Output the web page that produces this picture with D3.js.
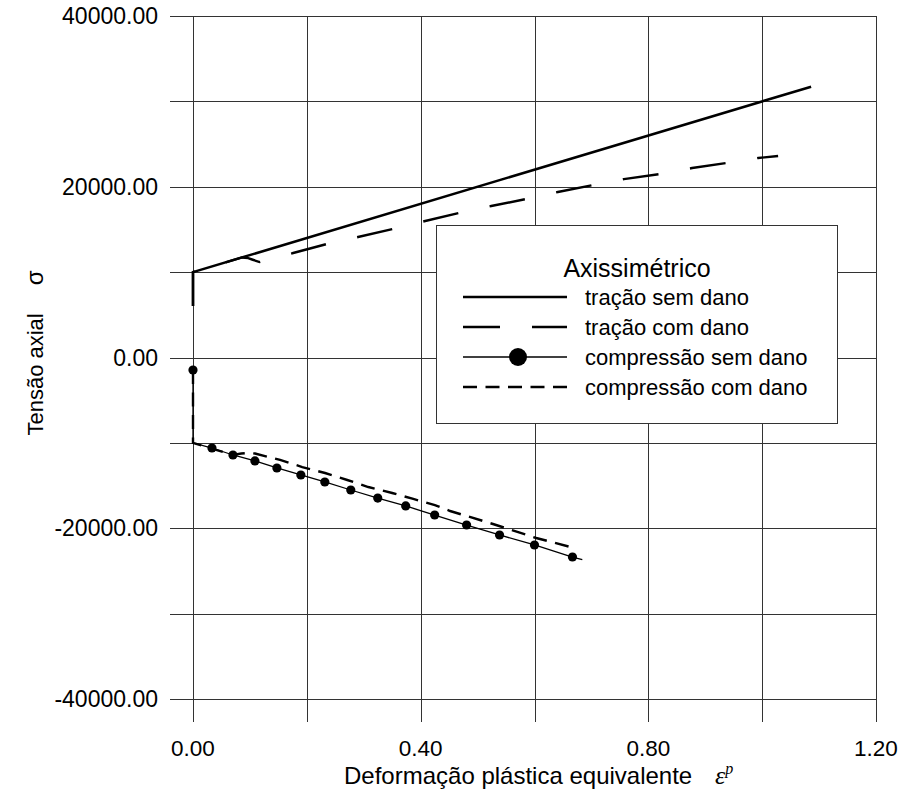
<!DOCTYPE html>
<html>
<head>
<meta charset="utf-8">
<script src="https://cdn.jsdelivr.net/npm/d3@7"></script>
<style>
  html, body { margin: 0; padding: 0; background: #fff; }
  svg { display: block; font-family: "Liberation Sans", Arial, sans-serif; }
</style>
</head>
<body>
<svg id="chart" width="903" height="793"></svg>
<script>
// ---- data ----
const tracaoSemDanoX = [0, 0, 1.086];
const tracaoSemDanoY = [6030, 10000, 31720];

const tracaoComDanoX = [0, 0, 0.086, 0.097, 0.105, 0.117, 0.176, 0.235, 0.290, 0.351, 0.408, 0.467, 0.524, 0.585, 0.641, 0.703, 0.757, 0.819, 0.877, 0.937, 0.993, 1.028];
const tracaoComDanoY = [6030, 10000, 11720, 11640, 11450, 11180, 12240, 13290, 14110, 15050, 15990, 16920, 17740, 18560, 19380, 20200, 20900, 21480, 22190, 22780, 23370, 23600];

const compSemDanoX = [0, 0, 0.0333, 0.0702, 0.1088, 0.1474, 0.1895, 0.2316, 0.2772, 0.3246, 0.3737, 0.4246, 0.4807, 0.5386, 0.6000, 0.6667, 0.684];
const compSemDanoY = [-1464, -10000, -10600, -11420, -12120, -12940, -13760, -14580, -15520, -16460, -17390, -18450, -19620, -20790, -21960, -23370, -23680];
const compSemDanoMarker = [true, false, true, true, true, true, true, true, true, true, true, true, true, true, true, true, false];

const compComDanoX = [0, 0, 0.070, 0.085, 0.098, 0.109, 0.153, 0.192, 0.232, 0.271, 0.308, 0.350, 0.387, 0.425, 0.4517, 0.527, 0.603, 0.6626];
const compComDanoY = [-1464, -10000, -11400, -11250, -11180, -11250, -12000, -12830, -13530, -14350, -15170, -15870, -16570, -17280, -17980, -19500, -21140, -22190];

const xGridValues = [0, 0.2, 0.4, 0.6, 0.8, 1.0, 1.2];
const xTickLabels = [0, 0.4, 0.8, 1.2];
const yGridValues = [-40000, -30000, -20000, -10000, 0, 10000, 20000, 30000, 40000];
const yTickLabels = [-40000, -20000, 0, 20000, 40000];

const legendTitle = "Axissimétrico";
const legendLabels = ["tração sem dano", "tração com dano", "compressão sem dano", "compressão com dano"];
const xTitle = "Deformação plástica equivalente";
const yTitle = "Tensão axial";

// ---- layout ----
const svg = d3.select("#chart");
const L = 193, R = 876, T = 16, B = 699;
const x = d3.scaleLinear().domain([0, 1.2]).range([L, R]);
const y = d3.scaleLinear().domain([-40000, 40000]).range([B, T]);

const gridColor = "#333";
const tickOut = 23;

// grid + ticks (extend outside frame)
const grid = svg.append("g").attr("shape-rendering", "crispEdges");
grid.selectAll("line.v").data(xGridValues).enter().append("line")
  .attr("x1", d => Math.round(x(d)) + 0.5).attr("x2", d => Math.round(x(d)) + 0.5)
  .attr("y1", T).attr("y2", B + tickOut)
  .attr("stroke", gridColor).attr("stroke-width", 1);
grid.selectAll("line.h").data(yGridValues).enter().append("line")
  .attr("y1", d => Math.round(y(d)) + 0.5).attr("y2", d => Math.round(y(d)) + 0.5)
  .attr("x1", L - tickOut).attr("x2", R)
  .attr("stroke", gridColor).attr("stroke-width", 1);
grid.append("rect").attr("x", L + 0.5).attr("y", T + 0.5)
  .attr("width", Math.round(R - L)).attr("height", Math.round(B - T))
  .attr("fill", "none").attr("stroke", gridColor).attr("stroke-width", 1);

// tick labels (hyphen-minus as in the reference)
const fmt = d => d3.format(".2f")(d).replace("\u2212", "-");
svg.append("g").selectAll("text").data(yTickLabels).enter().append("text")
  .attr("x", 158).attr("y", d => y(d)).attr("dy", "0.35em")
  .attr("text-anchor", "end").attr("font-size", 23).attr("fill", "#000")
  .text(d => fmt(d));
svg.append("g").selectAll("text").data(xTickLabels).enter().append("text")
  .attr("x", d => x(d)).attr("y", 756)
  .attr("text-anchor", "middle").attr("font-size", 22.5).attr("fill", "#000")
  .text(d => fmt(d));

// axis titles
const xt = svg.append("text").attr("x", 344).attr("y", 784)
  .attr("text-anchor", "start").attr("font-size", 24).attr("fill", "#000");
xt.append("tspan").text(xTitle);
xt.append("tspan").attr("x", 715).attr("font-family", "Liberation Serif, serif")
  .attr("font-style", "italic").attr("font-size", 26).text("ε");
xt.append("tspan").attr("dy", -10).attr("font-family", "Liberation Serif, serif")
  .attr("font-style", "italic").attr("font-size", 16).text("p");

const yt = svg.append("text").attr("transform", "translate(43,353) rotate(-90)")
  .attr("text-anchor", "middle").attr("font-size", 22).attr("fill", "#000");
yt.append("tspan").text(yTitle);
yt.append("tspan").attr("dx", 28).attr("font-size", 24).text("σ");

// series
const line = d3.line().x(d => x(d[0])).y(d => y(d[1]));
const zip = (xs, ys) => xs.map((v, i) => [v, ys[i]]);

const plot = svg.append("g");
plot.append("path").datum(zip(compComDanoX, compComDanoY))
  .attr("d", line).attr("fill", "none").attr("stroke", "#000")
  .attr("stroke-width", 2.4).attr("stroke-dasharray", "14,8.5");
plot.append("path").datum(zip(compSemDanoX, compSemDanoY))
  .attr("d", line).attr("fill", "none").attr("stroke", "#000")
  .attr("stroke-width", 1.3);
plot.selectAll("circle.m").data(zip(compSemDanoX, compSemDanoY).filter((d, i) => compSemDanoMarker[i]))
  .enter().append("circle")
  .attr("cx", d => x(d[0])).attr("cy", d => y(d[1])).attr("r", 4.6).attr("fill", "#000");
plot.append("path").datum(zip(tracaoComDanoX, tracaoComDanoY))
  .attr("d", line).attr("fill", "none").attr("stroke", "#000")
  .attr("stroke-width", 2.4).attr("stroke-dasharray", "36,32");
plot.append("path").datum(zip(tracaoSemDanoX, tracaoSemDanoY))
  .attr("d", line).attr("fill", "none").attr("stroke", "#000")
  .attr("stroke-width", 2.5);

// legend
const lg = svg.append("g");
lg.append("rect").attr("x", 436.5).attr("y", 225.5).attr("width", 401).attr("height", 198)
  .attr("fill", "#fff").attr("stroke", gridColor).attr("stroke-width", 1)
  .attr("shape-rendering", "crispEdges");
lg.append("text").attr("x", 637).attr("y", 277).attr("text-anchor", "middle")
  .attr("font-size", 25).attr("fill", "#000").text(legendTitle);
const rowY = [297, 327, 357, 387];
const styles = [
  {w: 2.5, dash: null, marker: false},
  {w: 2.4, dash: "37,32", marker: false},
  {w: 1.3, dash: null, marker: true},
  {w: 2.4, dash: "14,8.5", marker: false}
];
legendLabels.forEach((lab, i) => {
  const s = styles[i];
  const ln = lg.append("line").attr("x1", 463).attr("x2", 567)
    .attr("y1", rowY[i]).attr("y2", rowY[i])
    .attr("stroke", "#000").attr("stroke-width", s.w);
  if (s.dash) ln.attr("stroke-dasharray", s.dash);
  if (s.marker) lg.append("circle").attr("cx", 518).attr("cy", rowY[i]).attr("r", 9).attr("fill", "#000");
  lg.append("text").attr("x", 585).attr("y", rowY[i]).attr("dy", "0.35em")
    .attr("font-size", 22).attr("fill", "#000").text(lab);
});
</script>
</body>
</html>
